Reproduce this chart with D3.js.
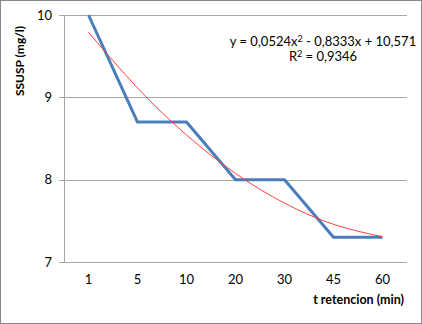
<!DOCTYPE html>
<html>
<head>
<meta charset="utf-8">
<script src="https://cdn.jsdelivr.net/npm/d3@7"></script>
<style>
  body { margin: 0; background: #fff; }
  text { font-family: Lato, "Open Sans", sans-serif; }
</style>
</head>
<body>
<div id="chart"></div>
<script>
// Datos
const tiempos = ["1", "5", "10", "20", "30", "45", "60"];
const ssusp = [10, 8.7, 8.7, 8.0, 8.0, 7.3, 7.3];
// linea de tendencia (polinomica) en cada categoria
const tendencia = [9.79, 9.114, 8.543, 8.076, 7.715, 7.458, 7.306];
const yTicks = [7, 8, 9, 10];

const width = 422, height = 324;
const margin = { top: 15, right: 15, bottom: 62, left: 64 };

const svg = d3.select("#chart").append("svg")
    .attr("width", width)
    .attr("height", height);

// marco exterior
svg.append("rect")
    .attr("x", 0.5).attr("y", 0.5)
    .attr("width", width - 1).attr("height", height - 1)
    .attr("fill", "#fff")
    .attr("stroke", "#888");

const x = d3.scaleBand()
    .domain(tiempos)
    .range([margin.left, width - margin.right]);

const y = d3.scaleLinear()
    .domain([7, 10])
    .range([height - margin.bottom, margin.top]);

// lineas de cuadricula
svg.append("g")
    .selectAll("line")
    .data(yTicks)
    .join("line")
    .attr("x1", margin.left - 5)
    .attr("x2", width - margin.right)
    .attr("y1", d => Math.round(y(d)) + 0.5)
    .attr("y2", d => Math.round(y(d)) + 0.5)
    .attr("stroke", "#a6a6a6");

// eje vertical
svg.append("line")
    .attr("x1", margin.left + 0.5).attr("x2", margin.left + 0.5)
    .attr("y1", margin.top).attr("y2", height - margin.bottom)
    .attr("stroke", "#a6a6a6");

// etiquetas eje y
svg.append("g")
    .selectAll("text")
    .data(yTicks)
    .join("text")
    .attr("x", margin.left - 12)
    .attr("y", d => y(d))
    .attr("dy", "0.35em")
    .attr("text-anchor", "end")
    .attr("font-size", "13px")
    .attr("fill", "#000")
    .text(d => d);

// etiquetas eje x
svg.append("g")
    .selectAll("text")
    .data(tiempos)
    .join("text")
    .attr("x", d => x(d) + x.bandwidth() / 2)
    .attr("y", height - margin.bottom + 22)
    .attr("text-anchor", "middle")
    .attr("font-size", "13px")
    .text(d => d);

// titulos de ejes
svg.append("text")
    .attr("transform", "translate(24, 61) rotate(-90)")
    .attr("text-anchor", "middle")
    .attr("font-size", "12px")
    .attr("font-weight", "bold")
    .text("SSUSP (mg/l)");

svg.append("text")
    .attr("x", 404)
    .attr("y", 304)
    .attr("text-anchor", "end")
    .attr("font-size", "12.5px")
    .attr("font-weight", "bold")
    .text("t retencion (min)");

const cx = (d, i) => x(tiempos[i]) + x.bandwidth() / 2;

// serie principal
svg.append("path")
    .datum(ssusp)
    .attr("fill", "none")
    .attr("stroke", "#4a7ebb")
    .attr("stroke-width", 3)
    .attr("stroke-linejoin", "round")
    .attr("d", d3.line().x(cx).y(d => y(d)));

// tendencia
svg.append("path")
    .datum(tendencia)
    .attr("fill", "none")
    .attr("stroke", "#ff4040")
    .attr("stroke-width", 1)
    .attr("d", d3.line().x(cx).y(d => y(d)).curve(d3.curveNatural));

// ecuacion
const eq = svg.append("text")
    .attr("x", 323)
    .attr("y", 46)
    .attr("text-anchor", "middle")
    .attr("font-size", "13px");
eq.append("tspan").text("y = 0,0524x");
eq.append("tspan").attr("dy", -4).attr("font-size", "9px").text("2");
eq.append("tspan").attr("dy", 4).text(" - 0,8333x + 10,571");

const r2 = svg.append("text")
    .attr("x", 323)
    .attr("y", 61)
    .attr("text-anchor", "middle")
    .attr("font-size", "13px");
r2.append("tspan").text("R");
r2.append("tspan").attr("dy", -4).attr("font-size", "9px").text("2");
r2.append("tspan").attr("dy", 4).text(" = 0,9346");
</script>
</body>
</html>
